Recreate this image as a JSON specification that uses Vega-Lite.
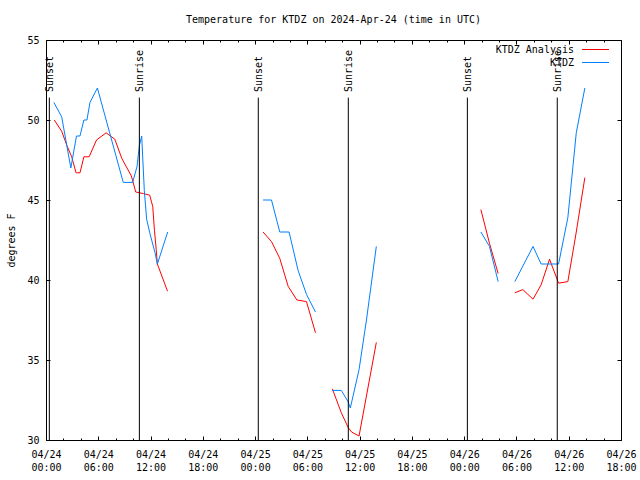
{
  "width": 575,
  "height": 400,
  "autosize": {"type": "none"},
  "padding": {"left": 46, "top": 40, "right": 19, "bottom": 40},
  "background": "white",
  "title": {"text": "Temperature for KTDZ on 2024-Apr-24 (time in UTC)", "fontSize": 10, "fontWeight": "normal", "font": "DejaVu Sans Mono", "color": "black", "anchor": "middle", "offset": 10},
  "datasets": {
    "temps": [
      {"t": "2024-04-24T00:57:00Z", "temp": 50.0, "series": "KTDZ Analysis", "seg": 1},
      {"t": "2024-04-24T01:48:00Z", "temp": 49.3, "series": "KTDZ Analysis", "seg": 1},
      {"t": "2024-04-24T02:24:00Z", "temp": 48.4, "series": "KTDZ Analysis", "seg": 1},
      {"t": "2024-04-24T02:57:00Z", "temp": 47.7, "series": "KTDZ Analysis", "seg": 1},
      {"t": "2024-04-24T03:27:00Z", "temp": 46.7, "series": "KTDZ Analysis", "seg": 1},
      {"t": "2024-04-24T03:54:00Z", "temp": 46.7, "series": "KTDZ Analysis", "seg": 1},
      {"t": "2024-04-24T04:21:00Z", "temp": 47.7, "series": "KTDZ Analysis", "seg": 1},
      {"t": "2024-04-24T04:57:00Z", "temp": 47.7, "series": "KTDZ Analysis", "seg": 1},
      {"t": "2024-04-24T05:48:00Z", "temp": 48.75, "series": "KTDZ Analysis", "seg": 1},
      {"t": "2024-04-24T06:54:00Z", "temp": 49.2, "series": "KTDZ Analysis", "seg": 1},
      {"t": "2024-04-24T07:54:00Z", "temp": 48.8, "series": "KTDZ Analysis", "seg": 1},
      {"t": "2024-04-24T08:42:00Z", "temp": 47.6, "series": "KTDZ Analysis", "seg": 1},
      {"t": "2024-04-24T09:48:00Z", "temp": 46.5, "series": "KTDZ Analysis", "seg": 1},
      {"t": "2024-04-24T10:18:00Z", "temp": 45.5, "series": "KTDZ Analysis", "seg": 1},
      {"t": "2024-04-24T11:12:00Z", "temp": 45.4, "series": "KTDZ Analysis", "seg": 1},
      {"t": "2024-04-24T11:54:00Z", "temp": 45.3, "series": "KTDZ Analysis", "seg": 1},
      {"t": "2024-04-24T12:15:00Z", "temp": 44.6, "series": "KTDZ Analysis", "seg": 1},
      {"t": "2024-04-24T12:27:00Z", "temp": 43.1, "series": "KTDZ Analysis", "seg": 1},
      {"t": "2024-04-24T12:39:00Z", "temp": 41.9, "series": "KTDZ Analysis", "seg": 1},
      {"t": "2024-04-24T12:47:00Z", "temp": 41.0, "series": "KTDZ Analysis", "seg": 1},
      {"t": "2024-04-24T13:57:00Z", "temp": 39.3, "series": "KTDZ Analysis", "seg": 1},
      {"t": "2024-04-25T00:55:00Z", "temp": 43.0, "series": "KTDZ Analysis", "seg": 2},
      {"t": "2024-04-25T01:53:00Z", "temp": 42.4, "series": "KTDZ Analysis", "seg": 2},
      {"t": "2024-04-25T02:50:00Z", "temp": 41.35, "series": "KTDZ Analysis", "seg": 2},
      {"t": "2024-04-25T03:48:00Z", "temp": 39.6, "series": "KTDZ Analysis", "seg": 2},
      {"t": "2024-04-25T04:48:00Z", "temp": 38.75, "series": "KTDZ Analysis", "seg": 2},
      {"t": "2024-04-25T05:54:00Z", "temp": 38.65, "series": "KTDZ Analysis", "seg": 2},
      {"t": "2024-04-25T06:56:00Z", "temp": 36.7, "series": "KTDZ Analysis", "seg": 2},
      {"t": "2024-04-25T08:52:00Z", "temp": 33.2, "series": "KTDZ Analysis", "seg": 3},
      {"t": "2024-04-25T09:54:00Z", "temp": 31.7, "series": "KTDZ Analysis", "seg": 3},
      {"t": "2024-04-25T10:40:00Z", "temp": 30.8, "series": "KTDZ Analysis", "seg": 3},
      {"t": "2024-04-25T11:04:00Z", "temp": 30.5, "series": "KTDZ Analysis", "seg": 3},
      {"t": "2024-04-25T11:56:00Z", "temp": 30.25, "series": "KTDZ Analysis", "seg": 3},
      {"t": "2024-04-25T13:55:00Z", "temp": 36.1, "series": "KTDZ Analysis", "seg": 3},
      {"t": "2024-04-26T01:55:00Z", "temp": 44.4, "series": "KTDZ Analysis", "seg": 4},
      {"t": "2024-04-26T02:54:00Z", "temp": 42.3, "series": "KTDZ Analysis", "seg": 4},
      {"t": "2024-04-26T03:54:00Z", "temp": 40.4, "series": "KTDZ Analysis", "seg": 4},
      {"t": "2024-04-26T05:49:00Z", "temp": 39.2, "series": "KTDZ Analysis", "seg": 5},
      {"t": "2024-04-26T06:44:00Z", "temp": 39.4, "series": "KTDZ Analysis", "seg": 5},
      {"t": "2024-04-26T07:54:00Z", "temp": 38.8, "series": "KTDZ Analysis", "seg": 5},
      {"t": "2024-04-26T08:50:00Z", "temp": 39.7, "series": "KTDZ Analysis", "seg": 5},
      {"t": "2024-04-26T09:48:00Z", "temp": 41.3, "series": "KTDZ Analysis", "seg": 5},
      {"t": "2024-04-26T10:50:00Z", "temp": 39.8, "series": "KTDZ Analysis", "seg": 5},
      {"t": "2024-04-26T11:54:00Z", "temp": 39.9, "series": "KTDZ Analysis", "seg": 5},
      {"t": "2024-04-26T12:52:00Z", "temp": 43.0, "series": "KTDZ Analysis", "seg": 5},
      {"t": "2024-04-26T13:51:00Z", "temp": 46.4, "series": "KTDZ Analysis", "seg": 5},
      {"t": "2024-04-24T00:54:00Z", "temp": 51.1, "series": "KTDZ", "seg": 1},
      {"t": "2024-04-24T01:48:00Z", "temp": 50.2, "series": "KTDZ", "seg": 1},
      {"t": "2024-04-24T02:51:00Z", "temp": 47.0, "series": "KTDZ", "seg": 1},
      {"t": "2024-04-24T03:30:00Z", "temp": 49.0, "series": "KTDZ", "seg": 1},
      {"t": "2024-04-24T03:54:00Z", "temp": 49.0, "series": "KTDZ", "seg": 1},
      {"t": "2024-04-24T04:21:00Z", "temp": 50.0, "series": "KTDZ", "seg": 1},
      {"t": "2024-04-24T04:42:00Z", "temp": 50.0, "series": "KTDZ", "seg": 1},
      {"t": "2024-04-24T05:03:00Z", "temp": 51.1, "series": "KTDZ", "seg": 1},
      {"t": "2024-04-24T05:54:00Z", "temp": 52.0, "series": "KTDZ", "seg": 1},
      {"t": "2024-04-24T08:52:00Z", "temp": 46.1, "series": "KTDZ", "seg": 1},
      {"t": "2024-04-24T09:57:00Z", "temp": 46.1, "series": "KTDZ", "seg": 1},
      {"t": "2024-04-24T10:27:00Z", "temp": 47.1, "series": "KTDZ", "seg": 1},
      {"t": "2024-04-24T10:43:00Z", "temp": 48.4, "series": "KTDZ", "seg": 1},
      {"t": "2024-04-24T10:59:00Z", "temp": 49.0, "series": "KTDZ", "seg": 1},
      {"t": "2024-04-24T11:17:00Z", "temp": 45.6, "series": "KTDZ", "seg": 1},
      {"t": "2024-04-24T11:33:00Z", "temp": 43.8, "series": "KTDZ", "seg": 1},
      {"t": "2024-04-24T11:56:00Z", "temp": 42.9, "series": "KTDZ", "seg": 1},
      {"t": "2024-04-24T12:31:00Z", "temp": 41.7, "series": "KTDZ", "seg": 1},
      {"t": "2024-04-24T12:47:00Z", "temp": 41.0, "series": "KTDZ", "seg": 1},
      {"t": "2024-04-24T13:58:00Z", "temp": 43.0, "series": "KTDZ", "seg": 1},
      {"t": "2024-04-25T00:55:00Z", "temp": 45.0, "series": "KTDZ", "seg": 2},
      {"t": "2024-04-25T01:53:00Z", "temp": 45.0, "series": "KTDZ", "seg": 2},
      {"t": "2024-04-25T02:50:00Z", "temp": 43.0, "series": "KTDZ", "seg": 2},
      {"t": "2024-04-25T03:54:00Z", "temp": 43.0, "series": "KTDZ", "seg": 2},
      {"t": "2024-04-25T04:56:00Z", "temp": 40.6, "series": "KTDZ", "seg": 2},
      {"t": "2024-04-25T05:54:00Z", "temp": 39.1, "series": "KTDZ", "seg": 2},
      {"t": "2024-04-25T06:56:00Z", "temp": 38.0, "series": "KTDZ", "seg": 2},
      {"t": "2024-04-25T08:52:00Z", "temp": 33.1, "series": "KTDZ", "seg": 3},
      {"t": "2024-04-25T09:54:00Z", "temp": 33.1, "series": "KTDZ", "seg": 3},
      {"t": "2024-04-25T10:40:00Z", "temp": 32.4, "series": "KTDZ", "seg": 3},
      {"t": "2024-04-25T10:56:00Z", "temp": 32.0, "series": "KTDZ", "seg": 3},
      {"t": "2024-04-25T11:56:00Z", "temp": 34.4, "series": "KTDZ", "seg": 3},
      {"t": "2024-04-25T12:47:00Z", "temp": 37.5, "series": "KTDZ", "seg": 3},
      {"t": "2024-04-25T13:55:00Z", "temp": 42.1, "series": "KTDZ", "seg": 3},
      {"t": "2024-04-26T01:55:00Z", "temp": 43.0, "series": "KTDZ", "seg": 4},
      {"t": "2024-04-26T02:54:00Z", "temp": 42.1, "series": "KTDZ", "seg": 4},
      {"t": "2024-04-26T03:54:00Z", "temp": 39.9, "series": "KTDZ", "seg": 4},
      {"t": "2024-04-26T05:49:00Z", "temp": 39.9, "series": "KTDZ", "seg": 5},
      {"t": "2024-04-26T07:54:00Z", "temp": 42.1, "series": "KTDZ", "seg": 5},
      {"t": "2024-04-26T08:50:00Z", "temp": 41.0, "series": "KTDZ", "seg": 5},
      {"t": "2024-04-26T10:50:00Z", "temp": 41.0, "series": "KTDZ", "seg": 5},
      {"t": "2024-04-26T11:54:00Z", "temp": 43.9, "series": "KTDZ", "seg": 5},
      {"t": "2024-04-26T12:52:00Z", "temp": 49.2, "series": "KTDZ", "seg": 5},
      {"t": "2024-04-26T13:51:00Z", "temp": 52.0, "series": "KTDZ", "seg": 5}
    ],
    "events": [
      {"t": "2024-04-24T00:23:00Z", "label": "Sunset"},
      {"t": "2024-04-24T10:43:00Z", "label": "Sunrise"},
      {"t": "2024-04-25T00:22:00Z", "label": "Sunset"},
      {"t": "2024-04-25T10:42:00Z", "label": "Sunrise"},
      {"t": "2024-04-26T00:22:00Z", "label": "Sunset"},
      {"t": "2024-04-26T10:41:00Z", "label": "Sunrise"}
    ]
  },
  "layer": [
    {
      "data": {"name": "temps"},
      "mark": {"type": "line", "strokeWidth": 1},
      "encoding": {
        "x": {
          "field": "t", "type": "temporal",
          "scale": {"type": "utc", "domain": [1713916800000, 1714154400000], "nice": false},
          "axis": {
            "orient": "bottom", "title": null,
            "values": [1713916800000, 1713938400000, 1713960000000, 1713981600000, 1714003200000, 1714024800000, 1714046400000, 1714068000000, 1714089600000, 1714111200000, 1714132800000, 1714154400000],
            "tickSize": -4,
            "labelExpr": "[utcFormat(datum.value, '%m/%d'), utcFormat(datum.value, '%H:%M')]",
            "labelPadding": 13, "labelLineHeight": 13, "labelBaseline": "top", "labelAlign": "center",
            "labelFlush": false, "labelOverlap": false, "labelBound": false
          }
        },
        "y": {
          "field": "temp", "type": "quantitative",
          "scale": {"domain": [30, 55], "nice": false, "zero": false},
          "axis": {
            "orient": "left", "values": [30, 35, 40, 45, 50, 55], "tickSize": -4, "labelPadding": 11,
            "title": "degrees F", "titleX": -35, "titleY": 200, "titleAngle": 270, "titleAlign": "center", "titleBaseline": "middle"
          }
        },
        "color": {
          "field": "series", "type": "nominal",
          "scale": {"domain": ["KTDZ Analysis", "KTDZ"], "range": ["#ff0000", "#0080ff"]},
          "legend": {
            "orient": "none", "legendX": 544, "legendY": 4, "title": null,
            "symbolType": "M-2.7,0H2.7", "symbolSize": 100, "symbolStrokeWidth": 1,
            "labelAlign": "right", "labelOffset": -27, "labelFont": "DejaVu Sans Mono", "labelFontSize": 10,
            "labelColor": "black", "padding": 0
          }
        },
        "detail": {"field": "seg", "type": "nominal"}
      }
    },
    {
      "data": {"name": "events"},
      "mark": {"type": "rule", "color": "black", "strokeWidth": 1},
      "encoding": {
        "x": {
          "field": "t", "type": "temporal",
          "axis": {
            "orient": "top", "title": null, "labels": false, "domain": false, "tickSize": -4,
            "values": [1713916800000, 1713938400000, 1713960000000, 1713981600000, 1714003200000, 1714024800000, 1714046400000, 1714068000000, 1714089600000, 1714111200000, 1714132800000, 1714154400000]
          }
        },
        "y": {"datum": 51.4, "type": "quantitative", "axis": {"orient": "right", "values": [30, 35, 40, 45, 50, 55], "tickSize": -4, "labels": false, "domain": false, "title": null}},
        "y2": {"datum": 30}
      }
    },
    {
      "data": {"name": "events"},
      "mark": {"type": "text", "angle": 270, "align": "left", "baseline": "middle", "dy": 1, "font": "DejaVu Sans Mono", "fontSize": 10, "color": "black"},
      "encoding": {
        "x": {
          "field": "t", "type": "temporal",
          "axis": {
            "orient": "bottom", "title": null, "labels": false, "domain": false, "tickSize": -2,
            "values": [1713924000000, 1713931200000, 1713945600000, 1713952800000, 1713967200000, 1713974400000, 1713988800000, 1713996000000, 1714010400000, 1714017600000, 1714032000000, 1714039200000, 1714053600000, 1714060800000, 1714075200000, 1714082400000, 1714096800000, 1714104000000, 1714118400000, 1714125600000, 1714140000000, 1714147200000]
          }
        },
        "y": {"datum": 51.75, "type": "quantitative", "axis": null},
        "text": {"field": "label", "type": "nominal"}
      }
    },
    {
      "data": {"name": "events"},
      "mark": {"type": "text", "opacity": 0, "fontSize": 10},
      "encoding": {
        "x": {
          "field": "t", "type": "temporal",
          "axis": {
            "orient": "top", "title": null, "labels": false, "domain": false, "tickSize": -2,
            "values": [1713924000000, 1713931200000, 1713945600000, 1713952800000, 1713967200000, 1713974400000, 1713988800000, 1713996000000, 1714010400000, 1714017600000, 1714032000000, 1714039200000, 1714053600000, 1714060800000, 1714075200000, 1714082400000, 1714096800000, 1714104000000, 1714118400000, 1714125600000, 1714140000000, 1714147200000]
          }
        },
        "y": {"datum": 51.75, "type": "quantitative", "axis": null},
        "text": {"field": "label", "type": "nominal"}
      }
    }
  ],
  "resolve": {"axis": {"x": "independent", "y": "independent"}},
  "config": {
    "font": "DejaVu Sans Mono",
    "view": {"stroke": "black", "strokeWidth": 1},
    "axis": {
      "grid": false, "domainColor": "black", "tickColor": "black", "labelColor": "black", "titleColor": "black",
      "labelFont": "DejaVu Sans Mono", "labelFontSize": 10, "titleFont": "DejaVu Sans Mono", "titleFontSize": 10, "titleFontWeight": "normal"
    }
  }
}
